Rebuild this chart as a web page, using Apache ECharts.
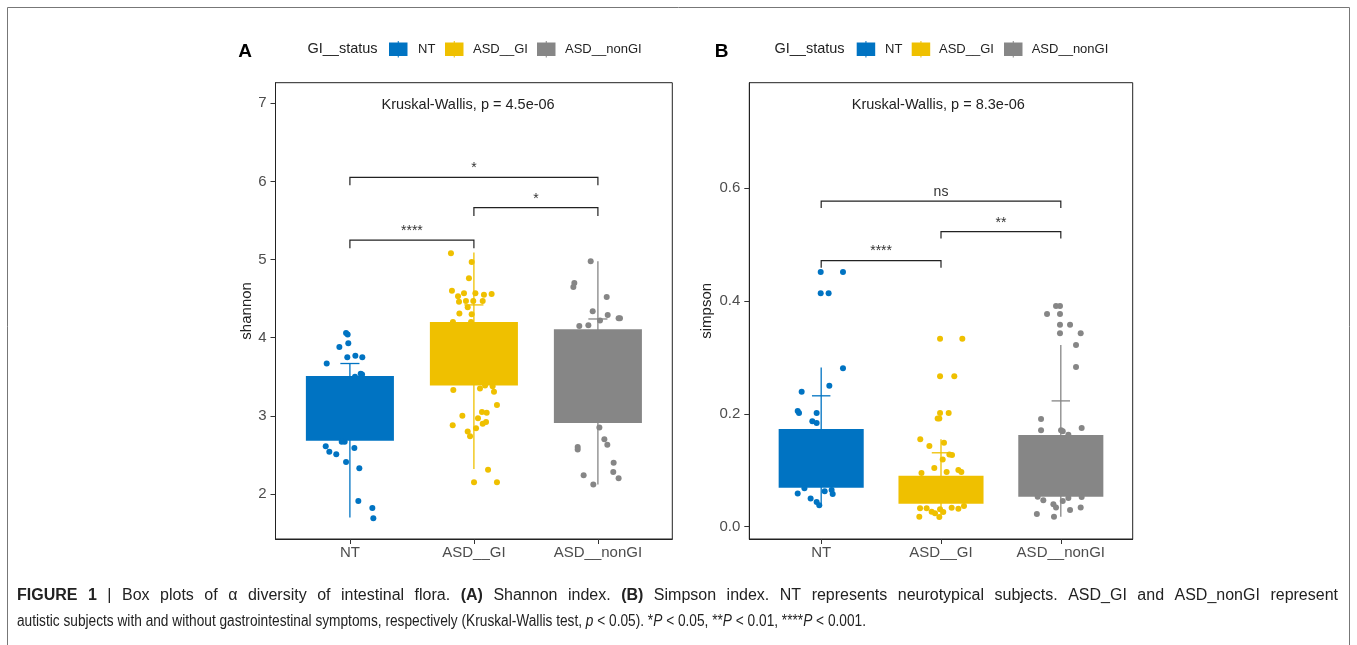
<!DOCTYPE html>
<html>
<head>
<meta charset="utf-8">
<script src="https://cdn.jsdelivr.net/npm/echarts@6.0.0/dist/echarts.min.js"></script>
<style>
html,body{margin:0;padding:0;background:#fff;}
#chart{width:1357px;height:645px;}
</style>
</head>
<body>
<div id="chart"></div>
<script>
// ---------- DATA ----------
const categories = ['NT', 'ASD__GI', 'ASD__nonGI'];
const legendTitle = 'GI__status';

// Panel A: shannon
const shannonQ1 = [2.68, 3.39, 2.91];
const shannonQ3 = [3.51, 4.20, 4.11];
const shannonLow = [1.70, 2.32, 2.12];
const shannonHigh = [3.67, 5.09, 4.98];
const shannonMark = [3.67, 4.42, 4.24];
// points: [jitter, value]
const shannonNT = [[-0.031,4.06],[-0.018,4.04],[-0.085,3.88],[-0.013,3.93],[-0.021,3.75],[0.044,3.77],[0.10,3.75],[-0.187,3.67],[0.087,3.54],[0.098,3.53],[0.041,3.50],[-0.042,2.67],[-0.066,2.67],[-0.195,2.61],[-0.166,2.54],[-0.11,2.51],[0.036,2.59],[-0.031,2.41],[0.076,2.33],[0.068,1.91],[0.181,1.82],[0.189,1.69]];
const shannonGI = [[-0.185,5.08],[-0.018,4.97],[-0.040,4.76],[-0.177,4.60],[-0.128,4.53],[-0.080,4.57],[0.012,4.57],[0.081,4.55],[0.143,4.56],[-0.120,4.46],[-0.064,4.47],[-0.005,4.47],[0.071,4.47],[-0.05,4.39],[-0.117,4.31],[-0.018,4.30],[-0.169,4.20],[-0.023,4.20],[-0.166,3.33],[0.049,3.35],[0.09,3.39],[0.151,3.38],[0.162,3.31],[0.186,3.14],[-0.093,3.00],[-0.171,2.88],[0.065,3.05],[0.103,3.04],[0.033,2.97],[0.071,2.90],[0.098,2.92],[0.017,2.84],[-0.05,2.80],[-0.031,2.74],[0.114,2.31],[0.001,2.15],[0.186,2.15]];
const shannonNonGI = [[-0.058,4.98],[-0.190,4.70],[-0.198,4.65],[0.071,4.52],[-0.042,4.34],[0.079,4.29],[0.017,4.22],[0.167,4.25],[0.178,4.25],[-0.15,4.15],[-0.077,4.16],[0.012,2.85],[0.052,2.70],[0.076,2.63],[-0.163,2.60],[-0.163,2.57],[0.127,2.40],[0.124,2.28],[0.167,2.20],[-0.115,2.24],[-0.037,2.12]];
// brackets: [from, to, top, legEnd]
const shannonBrackets = [[1,2,5.25,5.145],[2,3,5.664,5.558],[1,3,6.053,5.95]];
const shannonSig = ['****', '*', '*'];
const shannonTest = 'Kruskal-Wallis, p = 4.5e-06';
const shannonTicks = [2,3,4,5,6,7];

// Panel B: simpson
const simpsonQ1 = [0.069, 0.0408, 0.0532];
const simpsonQ3 = [0.173, 0.0904, 0.1626];
const simpsonLow = [0.038, 0.02, 0.0177];
const simpsonHigh = [0.282, 0.155, 0.322];
const simpsonMark = [0.232, 0.131, 0.223];
const simpsonNT = [[-0.004,0.4516],[0.182,0.4516],[-0.004,0.414],[0.062,0.414],[0.182,0.281],[0.068,0.250],[-0.163,0.239],[-0.196,0.205],[-0.185,0.2016],[-0.038,0.2016],[-0.074,0.187],[-0.038,0.184],[-0.14,0.068],[-0.088,0.050],[-0.038,0.044],[-0.016,0.038],[0.029,0.063],[0.087,0.065],[0.096,0.058],[-0.196,0.059]];
const simpsonGI = [[-0.008,0.333],[0.178,0.333],[-0.008,0.2667],[0.111,0.2667],[-0.008,0.2016],[0.064,0.2016],[-0.028,0.192],[-0.014,0.192],[-0.173,0.155],[-0.097,0.143],[0.025,0.149],[0.07,0.128],[0.092,0.127],[0.014,0.119],[-0.056,0.104],[-0.163,0.095],[0.047,0.097],[0.145,0.1005],[0.17,0.097],[-0.175,0.0326],[-0.12,0.0326],[-0.078,0.0266],[-0.05,0.0237],[-0.008,0.031],[0.019,0.026],[0.089,0.0337],[0.145,0.032],[0.192,0.0367],[-0.181,0.0177],[-0.014,0.017]];
const simpsonNonGI = [[-0.04,0.391],[-0.007,0.391],[-0.115,0.377],[-0.007,0.377],[-0.007,0.358],[0.077,0.358],[-0.007,0.343],[0.166,0.343],[0.127,0.322],[0.127,0.283],[-0.165,0.191],[-0.165,0.171],[0.002,0.171],[0.016,0.169],[0.063,0.163],[0.174,0.175],[-0.193,0.053],[-0.146,0.047],[-0.062,0.040],[-0.04,0.034],[0.016,0.0455],[0.063,0.051],[0.174,0.0527],[-0.2,0.0225],[-0.057,0.0177],[0.077,0.0296],[0.166,0.034]];
const simpsonBrackets = [[1,2,0.4716,0.459],[2,3,0.523,0.511],[1,3,0.577,0.565]];
const simpsonSig = ['****', '**', 'ns'];
const simpsonTest = 'Kruskal-Wallis, p = 8.3e-06';
const simpsonTicks = [0, 0.2, 0.4, 0.6];

// caption (line 1 is justified; [word, bold])
const captionLine1 = [['FIGURE',1],['1',1],['|',0],['Box',0],['plots',0],['of',0],['α',0],['diversity',0],['of',0],['intestinal',0],['flora.',0],['(A)',1],['Shannon',0],['index.',0],['(B)',1],['Simpson',0],['index.',0],['NT',0],['represents',0],['neurotypical',0],['subjects.',0],['ASD_GI',0],['and',0],['ASD_nonGI',0],['represent',0]];
const captionLine2 = 'autistic subjects with and without gastrointestinal symptoms, respectively (Kruskal-Wallis test, {i|p} < 0.05). *{i|P} < 0.05, **{i|P} < 0.01, ****{i|P} < 0.001.';
const captionLine2Plain = 'autistic subjects with and without gastrointestinal symptoms, respectively (Kruskal-Wallis test, p < 0.05). *P < 0.05, **P < 0.01, ****P < 0.001.';

// ---------- STYLE ----------
const colors = ['#0073C2', '#EFC000', '#868686'];
const FONT = "'Liberation Sans', Arial, sans-serif";
const HALF_BOX = 0.355;
const HALF_TICK = 0.077;

function axisPair(gi, yMin, yMax, yTicks, yName, yFmt) {
  const x = {
    type: 'value', gridIndex: gi, min: 0.4, max: 3.6,
    axisLine: {show: true, onZero: false, lineStyle: {color: '#222', width: 1}},
    axisTick: {show: true, customValues: [1,2,3], length: 5, lineStyle: {color: '#333'}},
    axisLabel: {show: true, customValues: [1,2,3], margin: 6, color: '#4d4d4d', fontSize: 15, fontFamily: FONT,
      formatter: v => categories[Math.round(v) - 1] || ''},
    splitLine: {show: false}
  };
  const y = {
    type: 'value', gridIndex: gi, min: yMin, max: yMax,
    name: yName, nameLocation: 'middle', nameGap: yFmt ? 35 : 21.5,
    nameTextStyle: {color: '#222', fontSize: 15, fontFamily: FONT},
    axisLine: {show: true, onZero: false, lineStyle: {color: '#222', width: 1}},
    axisTick: {show: true, customValues: yTicks, length: 5, lineStyle: {color: '#333'}},
    axisLabel: {show: true, customValues: yTicks, margin: 9, color: '#4d4d4d', fontSize: 15, fontFamily: FONT,
      formatter: v => yFmt ? v.toFixed(1) : String(Math.round(v))},
    splitLine: {show: false}
  };
  return [x, y];
}

function errSeries(gi, low, high, mark) {
  return {
    type: 'custom', xAxisIndex: gi, yAxisIndex: gi, z: 1,
    data: low.map((v, i) => [i + 1, v, high[i], mark[i]]),
    encode: {x: 0, y: [1, 2, 3]},
    renderItem: (params, api) => {
      const x = api.value(0);
      const c = colors[params.dataIndex];
      const a = api.coord([x, api.value(1)]);
      const b = api.coord([x, api.value(2)]);
      const m1 = api.coord([x - HALF_TICK, api.value(3)]);
      const m2 = api.coord([x + HALF_TICK, api.value(3)]);
      return {type: 'group', children: [
        {type: 'line', shape: {x1: a[0], y1: a[1], x2: b[0], y2: b[1]}, style: {stroke: c, lineWidth: 1.3}},
        {type: 'line', shape: {x1: m1[0], y1: m1[1], x2: m2[0], y2: m2[1]}, style: {stroke: c, lineWidth: 1.3}}
      ]};
    }
  };
}

function boxSeries(gi, q1, q3) {
  return {
    type: 'custom', xAxisIndex: gi, yAxisIndex: gi, z: 2,
    data: q1.map((v, i) => [i + 1, v, q3[i]]),
    encode: {x: 0, y: [1, 2]},
    renderItem: (params, api) => {
      const x = api.value(0);
      const p1 = api.coord([x - HALF_BOX, api.value(2)]);
      const p2 = api.coord([x + HALF_BOX, api.value(1)]);
      return {type: 'rect', shape: {x: p1[0], y: p1[1], width: p2[0] - p1[0], height: p2[1] - p1[1]},
        style: {fill: colors[params.dataIndex]}};
    }
  };
}

function pointSeries(gi, pts, ci) {
  return {
    type: 'scatter', xAxisIndex: gi, yAxisIndex: gi, z: 3,
    name: categories[ci], symbolSize: 6, silent: true,
    itemStyle: {color: colors[ci], opacity: 1},
    data: pts.map(p => [ci + 1 + p[0], p[1]])
  };
}

function bracketSeries(gi, br, labels) {
  return {
    type: 'custom', xAxisIndex: gi, yAxisIndex: gi, z: 4,
    data: br, encode: {x: [0, 1], y: [2, 3]},
    renderItem: (params, api) => {
      const x1 = api.value(0), x2 = api.value(1), yt = api.value(2), yl = api.value(3);
      const p1 = api.coord([x1, yl]), p2 = api.coord([x1, yt]), p3 = api.coord([x2, yt]), p4 = api.coord([x2, yl]);
      return {type: 'group', children: [
        {type: 'polyline', shape: {points: [p1, p2, p3, p4]}, style: {stroke: '#222', lineWidth: 1.2, fill: null}},
        {type: 'text', x: (p2[0] + p3[0]) / 2, y: p2[1] - 2,
          style: {text: labels[params.dataIndex], align: 'center', verticalAlign: 'bottom',
            font: '14px ' + FONT, fill: '#333'}}
      ]};
    }
  };
}

function testSeries(gi, text, pos) {
  return {
    type: 'custom', xAxisIndex: gi, yAxisIndex: gi, z: 4,
    data: [pos], encode: {x: 0, y: 1},
    renderItem: (params, api) => {
      const p = api.coord([api.value(0), api.value(1)]);
      return {type: 'text', x: p[0], y: p[1],
        style: {text: text, align: 'left', verticalAlign: 'middle', font: '14.5px ' + FONT, fill: '#222'}};
    }
  };
}

function legendGraphics(letter, letterX, titleCx, iconXs, textXs) {
  const g = [];
  g.push({type: 'text', x: letterX, y: 52, style: {text: letter, font: 'bold 19px ' + FONT, fill: '#000', align: 'center', verticalAlign: 'middle'}});
  g.push({type: 'text', x: titleCx, y: 49, style: {text: legendTitle, font: '14.5px ' + FONT, fill: '#222', align: 'center', verticalAlign: 'middle'}});
  iconXs.forEach((ix, i) => {
    g.push({type: 'rect', shape: {x: ix, y: 42.5, width: 18.5, height: 13.5}, style: {fill: colors[i]}});
    g.push({type: 'line', shape: {x1: ix + 9.25, y1: 41, x2: ix + 9.25, y2: 57.5}, style: {stroke: colors[i], lineWidth: 1}});
    g.push({type: 'text', x: textXs[i], y: 49, style: {text: categories[i], font: '13px ' + FONT, fill: '#222', align: 'left', verticalAlign: 'middle'}});
  });
  return g;
}

// ---------- caption layout (justified first line, condensed last line) ----------
const CAP = 16;
const CAP_LEFT = 17, CAP_RIGHT = 1338, CAP_LINE2_END = 866;
const mctx = document.createElement('canvas').getContext('2d');
function measure(text, bold) {
  mctx.font = (bold ? 'bold ' : '') + CAP + "px 'Liberation Sans'";
  return mctx.measureText(text).width;
}
const capScale = (CAP_LINE2_END - CAP_LEFT) / measure(captionLine2Plain, false);
const line1Scale = 1.0;
const wordWidths = captionLine1.map(w => measure(w[0], w[1]));
const wordSum = wordWidths.reduce((a, b) => a + b, 0);
const gap = ((CAP_RIGHT - CAP_LEFT) / line1Scale - wordSum) / (captionLine1.length - 1);
let cx = 0;
const line1Children = captionLine1.map((w, i) => {
  const el = {type: 'text', x: cx, y: 0, style: {text: w[0], font: (w[1] ? 'bold ' : '') + CAP + 'px ' + FONT, fill: '#222', verticalAlign: 'middle'}};
  cx += wordWidths[i] + gap;
  return el;
});

const [xA, yA] = axisPair(0, 1.424, 7.264, shannonTicks, 'shannon', false);
const [xB, yB] = axisPair(1, -0.0218, 0.787, simpsonTicks, 'simpson', true);

const option = {
  animation: false,
  backgroundColor: '#fff',
  grid: [
    {left: 275.5, top: 82.7, width: 396.8, height: 456.3, show: true, borderColor: '#222', borderWidth: 1, backgroundColor: 'transparent'},
    {left: 749.3, top: 82.7, width: 383.4, height: 456.3, show: true, borderColor: '#222', borderWidth: 1, backgroundColor: 'transparent'}
  ],
  xAxis: [xA, xB],
  yAxis: [yA, yB],
  graphic: [
    {type: 'rect', shape: {x: 7.5, y: 7.5, width: 1342, height: 700}, style: {fill: null, stroke: '#777', lineWidth: 1}, silent: true},
    ...legendGraphics('A', 245, 342.5, [389, 445, 537], [418, 473, 565]),
    ...legendGraphics('B', 721.7, 809.5, [856.7, 911.7, 1004], [885, 939, 1031.7]),
    {type: 'group', x: CAP_LEFT, y: 596, scaleX: line1Scale, children: line1Children},
    {type: 'group', x: CAP_LEFT, y: 622, scaleX: capScale, children: [
      {type: 'text', x: 0, y: 0, style: {text: captionLine2, font: CAP + 'px ' + FONT, fill: '#222', verticalAlign: 'middle',
        rich: {i: {fontStyle: 'italic', fontSize: CAP, fontFamily: FONT, fill: '#222'}}}}
    ]}
  ],
  series: [
    errSeries(0, shannonLow, shannonHigh, shannonMark),
    boxSeries(0, shannonQ1, shannonQ3),
    pointSeries(0, shannonNT, 0),
    pointSeries(0, shannonGI, 1),
    pointSeries(0, shannonNonGI, 2),
    bracketSeries(0, shannonBrackets, shannonSig),
    testSeries(0, shannonTest, [1.255, 6.978]),
    errSeries(1, simpsonLow, simpsonHigh, simpsonMark),
    boxSeries(1, simpsonQ1, simpsonQ3),
    pointSeries(1, simpsonNT, 0),
    pointSeries(1, simpsonGI, 1),
    pointSeries(1, simpsonNonGI, 2),
    bracketSeries(1, simpsonBrackets, simpsonSig),
    testSeries(1, simpsonTest, [1.255, 0.748])
  ]
};

const chart = echarts.init(document.getElementById('chart'), null, {renderer: 'canvas'});
chart.setOption(option);
</script>
</body>
</html>
